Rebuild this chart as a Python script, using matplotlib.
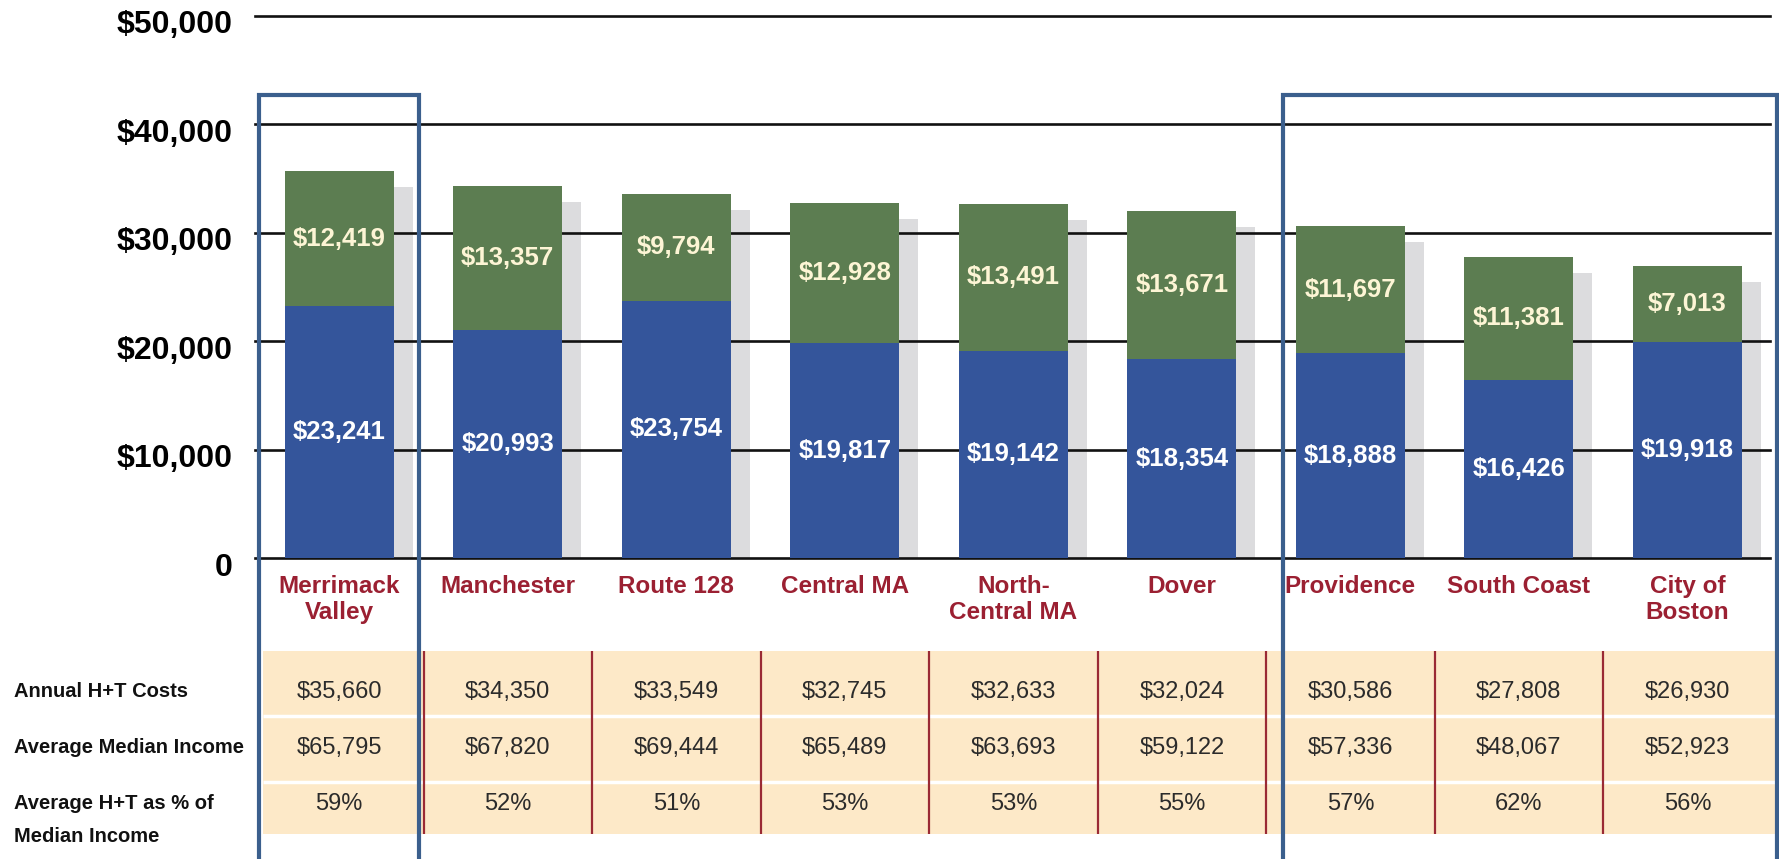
import matplotlib
matplotlib.use('Agg')
import matplotlib.pyplot as plt
from matplotlib.patches import Rectangle
from matplotlib.transforms import ScaledTranslation, blended_transform_factory

regions = ['Merrimack\nValley', 'Manchester', 'Route 128', 'Central MA', 'North-\nCentral MA',
           'Dover', 'Providence', 'South Coast', 'City of\nBoston']
housing = [23241, 20993, 23754, 19817, 19142, 18354, 18888, 16426, 19918]
transport = [12419, 13357, 9794, 12928, 13491, 13671, 11697, 11381, 7013]
annualCosts = ['$35,660', '$34,350', '$33,549', '$32,745', '$32,633', '$32,024', '$30,586', '$27,808', '$26,930']
medianIncome = ['$65,795', '$67,820', '$69,444', '$65,489', '$63,693', '$59,122', '$57,336', '$48,067', '$52,923']
shareIncome = ['59%', '52%', '51%', '53%', '53%', '55%', '57%', '62%', '56%']
rowNames = ['Annual H+T Costs', 'Average Median Income', 'Average H+T as % of\nMedian Income']
yTicks = [0, 10000, 20000, 30000, 40000, 50000]
yTickLabels = ['0', '$10,000', '$20,000', '$30,000', '$40,000', '$50,000']
# highlighted groups (x range in category units, top of frame in $)
highlightBoxes = [(-0.475, 0.475), (5.6, 8.53)]
boxTop = 42700

plt.rcParams['font.family'] = ['Liberation Sans', 'DejaVu Sans']

W, H = 1779, 859
fig = plt.figure(figsize=(W / 100, H / 100), dpi=100)
ax = fig.add_axes([255 / W, 1 - 558 / H, (1770 - 255) / W, (558 - 16) / H])
ax.set_zorder(2)
ax.patch.set_visible(False)

x = list(range(len(regions)))
totals = [h + t for h, t in zip(housing, transport)]
barW = 0.647

# drop shadow behind each stacked bar
shadowShift = ax.transData + ScaledTranslation(0.19, -0.16, fig.dpi_scale_trans)
ax.bar(x, totals, width=barW, color='#dcdcde', transform=shadowShift, zorder=0.3)

hb = ax.bar(x, housing, width=barW, color='#34559b', zorder=2)
tb = ax.bar(x, transport, bottom=housing, width=barW, color='#5c7d51', zorder=2)
ax.bar_label(hb, labels=['${:,}'.format(v) for v in housing], label_type='center',
             color='white', fontsize=18.5, fontweight='bold')
ax.bar_label(tb, labels=['${:,}'.format(v) for v in transport], label_type='center',
             color='#fdf5d5', fontsize=18.5, fontweight='bold')

ax.set_xlim(-0.5, 8.49)
ax.set_ylim(0, 50000)
ax.set_axisbelow(True)
ax.yaxis.grid(True, color='#111111', linewidth=1.9)
for s in ax.spines.values():
    s.set_visible(False)
ax.set_yticks(yTicks, yTickLabels)
ax.set_xticks(x, regions)
ax.tick_params(axis='y', length=0, pad=16, labelsize=23)
ax.tick_params(axis='x', length=0, pad=12, labelsize=17.5, labelcolor='#9b2032')
for lab in ax.get_yticklabels():
    lab.set_fontweight('bold')
    lab.set_transform(lab.get_transform() + ScaledTranslation(0, -0.06, fig.dpi_scale_trans))
for lab in ax.get_xticklabels():
    lab.set_fontweight('bold')
for gl in ax.get_ygridlines():
    gl.set_clip_on(False)

for left, right in highlightBoxes:
    ax.add_patch(Rectangle((left, -30000), right - left, boxTop + 30000, fill=False,
                           edgecolor='#3b5f8d', linewidth=3, clip_on=False, zorder=5))

# table under the chart
axT = fig.add_axes([255 / W, 1 - 834 / H, (1770 - 255) / W, (834 - 651) / H])
axT.set_zorder(1)
axT.set_xlim(ax.get_xlim())
axT.set_ylim(1, 0)
axT.set_axis_off()
axT.add_patch(Rectangle((-0.45, 0), 9.2, 1, facecolor='#fde9c8', edgecolor='none',
                        clip_on=False, zorder=0))
axT.hlines([0.355, 0.716], -0.45, 8.75, color='white', linewidth=2.5, clip_on=False)
axT.vlines([i + 0.5 for i in range(len(regions) - 1)], 0, 1, color='#9a2a35', linewidth=1.6)

rowY = [0.213, 0.514, 0.825]
lineGap = 0.178
for r, vals in enumerate([annualCosts, medianIncome, shareIncome]):
    for i, v in enumerate(vals):
        axT.text(i, rowY[r], v, ha='center', va='center_baseline', fontsize=17, color='#2b2b2b')
rowTrans = blended_transform_factory(fig.transFigure, axT.transData)
for r, name in enumerate(rowNames):
    for k, line in enumerate(name.split('\n')):
        axT.text(14 / W, rowY[r] + k * lineGap, line, transform=rowTrans, ha='left',
                 va='center_baseline', fontsize=14.5, fontweight='bold', color='#111111',
                 clip_on=False)

fig.savefig('out.png', dpi=100)
